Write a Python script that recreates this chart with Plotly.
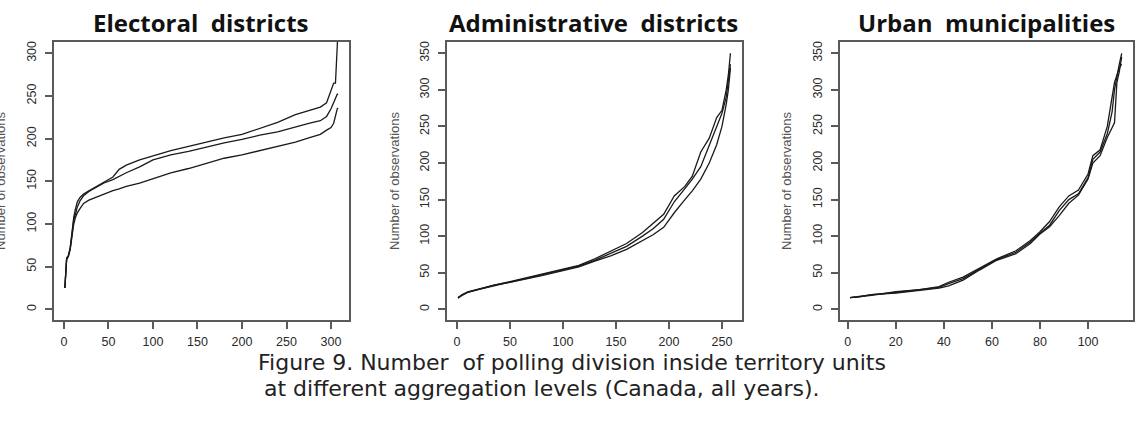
import plotly.graph_objects as go

# ---------------- data ----------------
# Panel 1: Electoral districts
el_x = [1, 2, 3, 5, 7, 9, 11, 13, 15, 18, 22, 28, 35, 45, 55, 62, 70, 85, 100, 120,
        140, 160, 180, 200, 220, 240, 260, 275, 288, 295, 300, 303, 305, 306, 307, 308]
el_a = [25, 45, 60, 63, 72, 90, 108, 118, 126, 131, 135, 139, 143, 149, 155, 164, 169, 175, 180, 186,
        191, 196, 201, 205, 212, 219, 228, 233, 237, 242, 255, 265, 265, 300, 312, 330]
el_b = [25, 45, 60, 63, 72, 88, 105, 112, 120, 127, 133, 138, 142, 148, 152, 156, 160, 167, 175, 181,
        185, 190, 195, 199, 204, 208, 214, 218, 221, 226, 235, 243, 248, 250, 252, 252]
el_c = [25, 45, 58, 62, 70, 85, 100, 108, 113, 118, 124, 128, 131, 135, 139, 141, 144, 148, 153, 160,
        165, 171, 177, 181, 186, 191, 196, 201, 205, 210, 213, 218, 226, 232, 235, 236]

# Panel 2: Administrative districts
ad_x = [1, 5, 10, 20, 35, 50, 65, 80, 100, 115, 130, 145, 160, 175, 185, 195, 205, 215,
        222, 230, 238, 245, 250, 254, 256, 258]
ad_a = [15, 20, 24, 28, 33, 38, 43, 48, 55, 60, 69, 79, 90, 105, 117, 130, 155, 168,
        182, 215, 234, 262, 272, 300, 320, 350]
ad_b = [16, 19, 23, 27, 32, 37, 42, 47, 54, 59, 67, 77, 86, 100, 110, 123, 147, 165,
        178, 195, 225, 250, 268, 290, 310, 335]
ad_c = [16, 20, 23, 27, 33, 37, 41, 46, 53, 58, 66, 73, 82, 94, 102, 112, 132, 150,
        162, 178, 200, 225, 250, 280, 300, 330]

# Panel 3: Urban municipalities
ur_x = [1, 5, 10, 20, 30, 38, 42, 48, 55, 62, 70, 76, 80, 84, 88, 92, 96, 100, 102,
        105, 108, 110, 111, 112, 113, 114]
ur_a = [16, 18, 20, 23, 27, 30, 35, 42, 55, 68, 78, 92, 104, 115, 135, 150, 158, 180, 205,
        215, 240, 270, 300, 320, 335, 350]
ur_b = [16, 17, 20, 22, 26, 29, 32, 40, 54, 67, 76, 90, 103, 113, 128, 145, 156, 178, 200,
        210, 235, 250, 255, 310, 325, 345]
ur_c = [16, 17, 19, 24, 27, 31, 37, 44, 56, 69, 80, 94, 106, 120, 140, 155, 163, 185, 210,
        218, 250, 290, 310, 320, 330, 335]

titles = ["Electoral  districts", "Administrative  districts", "Urban  municipalities"]
y_title = "Number of observations"
caption_1 = "Figure 9. Number  of polling division inside territory units"
caption_2 = "at different aggregation levels (Canada, all years)."

x_ticks = [[0, 50, 100, 150, 200, 250, 300], [0, 50, 100, 150, 200, 250], [0, 20, 40, 60, 80, 100]]
y_ticks = [[0, 50, 100, 150, 200, 250, 300], [0, 50, 100, 150, 200, 250, 300, 350],
           [0, 50, 100, 150, 200, 250, 300, 350]]

# ---------------- layout geometry ----------------
W, H = 1145, 432
boxes = [(54, 349), (447, 742), (840, 1133)]   # pixel x extents of plot boxes
box_top, box_bot = 42, 320
x_ranges = [[-11.2, 320.2], [-9.4, 268.9], [-3.2, 118.7]]
y_ranges = [[-12.5, 313.2], [-14.6, 365.4], [-14.6, 365.4]]
title_cx = [201, 593, 986]
ytitle_cx = [1, 395, 787]

fig = go.Figure()
panels = [(el_x, [el_a, el_b, el_c]), (ad_x, [ad_a, ad_b, ad_c]), (ur_x, [ur_a, ur_b, ur_c])]
for i, (xs, series) in enumerate(panels):
    suf = "" if i == 0 else str(i + 1)
    for ys in series:
        fig.add_trace(go.Scatter(x=xs, y=ys, mode="lines",
                                 line=dict(color="#1a1a1a", width=1.3),
                                 xaxis="x" + suf, yaxis="y" + suf, showlegend=False,
                                 hoverinfo="skip"))

ydom = [1 - box_bot / H, 1 - box_top / H]
axis_common = dict(showgrid=False, zeroline=False, showline=True, mirror=True,
                   linecolor="#5a5a5a", linewidth=1.5, ticks="outside", ticklen=7,
                   tickwidth=1.5, tickcolor="#5a5a5a",
                   tickfont=dict(family="Liberation Sans, Arial", size=12.5, color="#2a2a2a"))
lay = {}
for i in range(3):
    suf = "" if i == 0 else str(i + 1)
    x0, x1 = boxes[i]
    lay["xaxis" + suf] = dict(axis_common, domain=[x0 / W, x1 / W], range=x_ranges[i],
                              tickvals=x_ticks[i], anchor="y" + suf, ticklabelstandoff=2)
    lay["yaxis" + suf] = dict(axis_common, domain=ydom, range=y_ranges[i],
                              tickvals=y_ticks[i], anchor="x" + suf, tickangle=-90,
                              ticklabelstandoff=4)

annotations = []
for i in range(3):
    annotations.append(dict(text="<b>" + titles[i] + "</b>", x=title_cx[i] / W, y=1 - 22 / H,
                            xref="paper", yref="paper", showarrow=False, xanchor="center",
                            yanchor="middle",
                            font=dict(family="Open Sans", size=24, color="#111")))
    annotations.append(dict(text=y_title, x=ytitle_cx[i] / W, y=1 - 181 / H, xref="paper",
                            yref="paper", showarrow=False, textangle=-90, xanchor="center",
                            yanchor="middle",
                            font=dict(family="Liberation Sans, Arial", size=13, color="#555")))
annotations.append(dict(text=caption_1, x=572 / W, y=1 - 362 / H, xref="paper", yref="paper",
                        showarrow=False, xanchor="center", yanchor="middle",
                        font=dict(family="DejaVu Sans", size=22, color="#222")))
annotations.append(dict(text=caption_2, x=542 / W, y=1 - 388 / H, xref="paper", yref="paper",
                        showarrow=False, xanchor="center", yanchor="middle",
                        font=dict(family="DejaVu Sans", size=22, color="#222")))

fig.update_layout(template="none", width=W, height=H, margin=dict(l=0, r=0, t=0, b=0),
                  paper_bgcolor="white", plot_bgcolor="white",
                  annotations=annotations, **lay)
fig.write_html("out.html")
